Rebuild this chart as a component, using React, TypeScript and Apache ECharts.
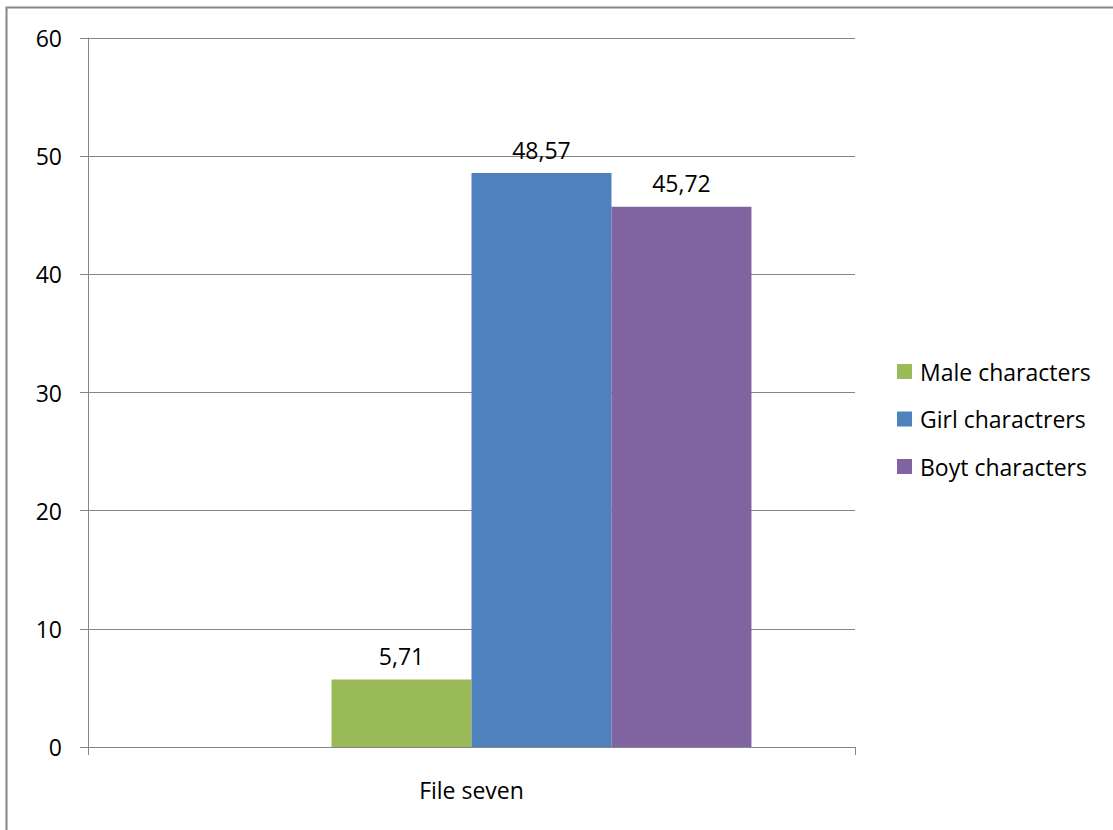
import React, { useEffect, useRef } from "react";
import * as echarts from "echarts";

const categories = ["File seven"];
const seriesNames = ["Male characters", "Girl charactrers", "Boyt characters"];
const seriesColors = ["#9BBB59", "#4F81BD", "#8064A2"];
const maleValues = [5.71];
const girlValues = [48.57];
const boyValues = [45.72];
const yTicks = { min: 0, max: 60, interval: 10 };

const FONT = "'Open Sans', 'Noto Sans', sans-serif";
const FS = 23;

export default function App() {
  const ref = useRef<HTMLDivElement>(null);

  useEffect(() => {
    document.body.style.margin = "0";
    if (!ref.current) return;
    const chart = echarts.init(ref.current, null, { renderer: "svg" });

    const valueSets = [maleValues, girlValues, boyValues];
    const label = {
      show: true,
      position: "top",
      distance: 12,
      color: "#000",
      fontSize: FS,
      fontFamily: FONT,
      formatter: (p: any) => String(p.value).replace(".", ","),
    };

    const series: any[] = [
      // empty leading slot in the cluster (series without values)
      {
        name: "",
        type: "bar",
        data: categories.map(() => null),
        barGap: "0%",
        barCategoryGap: "27%",
      },
      ...seriesNames.map((name, i) => ({
        name,
        type: "bar",
        data: valueSets[i],
        itemStyle: { color: seriesColors[i] },
        barGap: "0%",
        barCategoryGap: "27%",
        label,
      })),
    ];

    chart.setOption({
      animation: false,
      backgroundColor: "#fff",
      textStyle: { fontFamily: FONT },
      graphic: [
        {
          type: "rect",
          shape: { x: 6.5, y: 7.5, width: 1200, height: 1000 },
          style: { fill: "none", stroke: "#868686", lineWidth: 2 },
          silent: true,
        },
      ],
      grid: { left: 88, right: 258, top: 38, bottom: 83 },
      legend: {
        orient: "vertical",
        left: 892,
        top: 355,
        itemWidth: 15,
        itemHeight: 15,
        itemGap: 24.5,
        icon: "rect",
        data: seriesNames,
        textStyle: { fontSize: FS, color: "#000", fontFamily: FONT, padding: [0, 0, 0, 3] },
      },
      xAxis: {
        type: "category",
        data: categories,
        axisLine: { lineStyle: { color: "#868686", width: 1 } },
        axisTick: { show: true, length: 8, alignWithLabel: false, lineStyle: { color: "#868686" } },
        axisLabel: { color: "#000", fontSize: FS, fontFamily: FONT, margin: 31 },
      },
      yAxis: {
        type: "value",
        min: yTicks.min,
        max: yTicks.max,
        interval: yTicks.interval,
        axisLine: { show: true, lineStyle: { color: "#868686", width: 1 } },
        axisTick: { show: true, length: 8, lineStyle: { color: "#868686" } },
        splitLine: { lineStyle: { color: "#868686", width: 1 } },
        axisLabel: { color: "#000", fontSize: FS, fontFamily: FONT, margin: 26 },
      },
      series,
    });

    return () => chart.dispose();
  }, []);

  return <div ref={ref} style={{ width: 1113, height: 830 }} />;
}
